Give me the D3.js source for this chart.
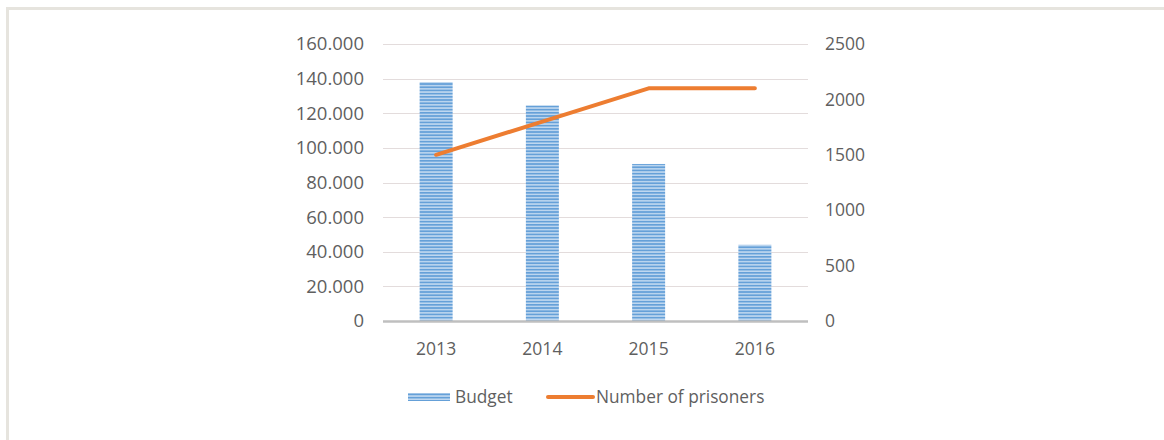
<!DOCTYPE html>
<html>
<head>
<meta charset="utf-8">
<script src="https://cdn.jsdelivr.net/npm/d3@7"></script>
<style>
  html, body { margin: 0; padding: 0; background: #fff; }
  svg { display: block; }
  text { font-family: "Open Sans", "Noto Sans", sans-serif; fill: #5f5f5f; }
</style>
</head>
<body>
<svg id="chart" width="1164" height="440"></svg>
<script>
// Chart data
const years = ["2013", "2014", "2015", "2016"];
const budget = [138000, 124500, 90700, 44000];
const prisoners = [1500, 1800, 2100, 2100];
const budgetTicks = [0, 20000, 40000, 60000, 80000, 100000, 120000, 140000, 160000];
const prisonerTicks = [0, 500, 1000, 1500, 2000, 2500];
const seriesNames = ["Budget", "Number of prisoners"];

const svg = d3.select("#chart");
const FONT = '"Open Sans", sans-serif';

// Frame lines along the top and left edges
svg.append("rect").attr("x", 6).attr("y", 7).attr("width", 1158).attr("height", 3).attr("fill", "#e6e4de");
svg.append("rect").attr("x", 6).attr("y", 7).attr("width", 3).attr("height", 433).attr("fill", "#e6e4de");

const plot = { left: 383, right: 808, top: 44, bottom: 321 };

const x = d3.scaleBand().domain(years).range([plot.left, plot.right]).paddingInner(0).paddingOuter(0);
const yL = d3.scaleLinear().domain([0, 160000]).range([plot.bottom, plot.top]);
const yR = d3.scaleLinear().domain([0, 2500]).range([plot.bottom, plot.top]);

// Striped fill for the budget bars
const defs = svg.append("defs");
const pat = defs.append("pattern").attr("id", "stripes").attr("patternUnits", "userSpaceOnUse")
  .attr("width", 8).attr("height", 3.2);
pat.append("rect").attr("width", 8).attr("height", 3.2).attr("fill", "#c0d8f0");
pat.append("rect").attr("y", 0).attr("width", 8).attr("height", 1.7).attr("fill", "#65a0d8");

// Gridlines
svg.append("g").selectAll("line").data(budgetTicks.filter(d => d > 0)).join("line")
  .attr("x1", plot.left).attr("x2", plot.right)
  .attr("y1", d => Math.round(yL(d)) + 0.5).attr("y2", d => Math.round(yL(d)) + 0.5)
  .attr("stroke", "#e3dcdc").attr("stroke-width", 1);

// Left axis labels (thousands with dot separators)
const leftAxis = d3.axisLeft(yL).tickValues(budgetTicks).tickSize(0).tickPadding(0)
  .tickFormat(d => d === 0 ? "0" : d3.format(",")(d).replace(/,/g, "."));
const gL = svg.append("g").attr("transform", `translate(364,0)`).call(leftAxis);
gL.select(".domain").remove();
gL.selectAll("text").attr("font-size", 18.5).attr("fill", "#5f5f5f").style("font-family", FONT);

// Right axis labels
const rightAxis = d3.axisRight(yR).tickValues(prisonerTicks).tickSize(0).tickPadding(0)
  .tickFormat(d3.format("d"));
const gR = svg.append("g").attr("transform", `translate(825,0)`).call(rightAxis);
gR.select(".domain").remove();
gR.selectAll("text").attr("font-size", 17.5).attr("fill", "#5f5f5f").style("font-family", FONT);

// Bars
const barW = 33;
svg.append("g").selectAll("rect").data(years).join("rect")
  .attr("x", (d) => x(d) + x.bandwidth() / 2 - barW / 2)
  .attr("width", barW)
  .attr("y", (d, i) => yL(budget[i]))
  .attr("height", (d, i) => yL(0) - yL(budget[i]))
  .attr("fill", "url(#stripes)");

// Baseline
svg.append("line").attr("x1", plot.left).attr("x2", plot.right)
  .attr("y1", plot.bottom + 0.5).attr("y2", plot.bottom + 0.5)
  .attr("stroke", "#bfbfbf").attr("stroke-width", 2.5);

// Category axis labels
const bottomAxis = d3.axisBottom(x).tickSize(0).tickPadding(0);
const gB = svg.append("g").attr("transform", `translate(0,${plot.bottom + 22})`).call(bottomAxis);
gB.select(".domain").remove();
gB.selectAll("text").attr("font-size", 17.5).attr("fill", "#5f5f5f").style("font-family", FONT);

// Prisoners line
const line = d3.line().x((d, i) => x(years[i]) + x.bandwidth() / 2).y(d => yR(d));
svg.append("path").datum(prisoners).attr("d", line)
  .attr("fill", "none").attr("stroke", "#ed7d31").attr("stroke-width", 4)
  .attr("stroke-linecap", "round").attr("stroke-linejoin", "round");

// Legend
const lg = svg.append("g");
lg.append("rect").attr("x", 408).attr("y", 393).attr("width", 42).attr("height", 8).attr("fill", "url(#stripes)");
lg.append("text").attr("x", 455).attr("y", 397).attr("dy", "0.35em").attr("font-size", 17.3).text(seriesNames[0]);
lg.append("line").attr("x1", 548).attr("x2", 593).attr("y1", 397).attr("y2", 397)
  .attr("stroke", "#ed7d31").attr("stroke-width", 4).attr("stroke-linecap", "round");
lg.append("text").attr("x", 596).attr("y", 397).attr("dy", "0.35em").attr("font-size", 17.3).text(seriesNames[1]);
</script>
</body>
</html>
